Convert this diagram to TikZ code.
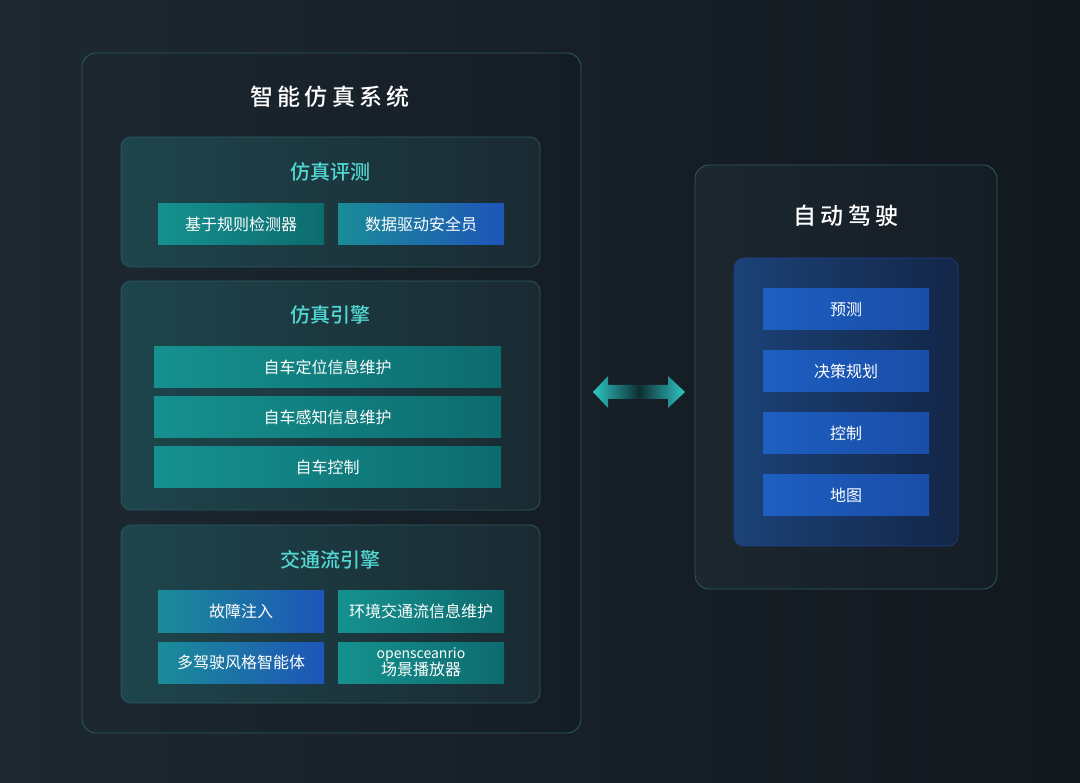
\documentclass[tikz,border=0pt]{standalone}
\usepackage{fontspec}
\setmainfont{Noto Sans CJK SC}
\newfontfamily\titlefont[LetterSpace=18]{Noto Sans CJK SC Medium}
\newfontfamily\subfont{Noto Sans CJK SC Medium}
\usetikzlibrary{calc}
\definecolor{bgL}{HTML}{1E2831}
\definecolor{bgR}{HTML}{11181E}
\definecolor{panelL}{HTML}{1C2730}
\definecolor{panelR}{HTML}{151D24}
\definecolor{edge}{HTML}{2C5A60}
\definecolor{subL}{HTML}{1E454C}
\definecolor{subR}{HTML}{1A2A32}
\definecolor{cyanT}{HTML}{52D8D2}
\definecolor{tealL}{HTML}{15918F}
\definecolor{tealR}{HTML}{0D6B6E}
\definecolor{blueL}{HTML}{1A8C98}
\definecolor{blueR}{HTML}{1E55B8}
\definecolor{adL}{HTML}{1D5FC2}
\definecolor{adR}{HTML}{1A4DA6}
\definecolor{innL}{HTML}{1B4277}
\definecolor{innR}{HTML}{132647}
\definecolor{arrT}{HTML}{2EC7C4}
\definecolor{arrD}{HTML}{0E2E33}
\tikzset{
  panel/.style={rectangle, rounded corners=14pt, draw=edge, line width=0.8pt,
    left color=panelL, right color=panelR, inner sep=0pt},
  subpanel/.style={rectangle, rounded corners=10pt, draw=edge, line width=0.7pt,
    left color=subL, right color=subR, inner sep=0pt, minimum width=419pt},
  innerpanel/.style={rectangle, rounded corners=10pt, draw=edge!70!blue, line width=0.6pt,
    left color=innL, right color=innR, inner sep=0pt},
  boxbase/.style={rectangle, inner sep=0pt, text=white, align=center,
    font=\fontsize{16}{17}\selectfont, minimum height=41pt},
  tealbox/.style={boxbase, left color=tealL, right color=tealR, minimum width=166pt},
  bluebox/.style={boxbase, left color=blueL, right color=blueR, minimum width=166pt},
  widebox/.style={boxbase, left color=tealL, right color=tealR, minimum width=347pt},
  adbox/.style={boxbase, left color=adL, right color=adR, minimum width=166pt},
  maintitle/.style={text=white, font=\titlefont\fontsize{23}{26}\selectfont},
  subtitle/.style={text=cyanT, font=\subfont\fontsize{20}{22}\selectfont},
}
\begin{document}
\begin{tikzpicture}[x=1pt,y=-1pt]
\useasboundingbox (0,0) rectangle (1080,783);
\shade[left color=bgL, right color=bgR] (0,0) rectangle (1080,783);
% left panel
\node[panel, minimum width=499pt, minimum height=680pt] (sys) at (331.5,393) {};
\node[maintitle] (systitle) at (330,97) {智能仿真系统};
% sub panel 1
\node[subpanel, minimum height=130pt] (eval) at (330.5,202) {};
\node[subtitle] (evaltitle) at (330,172) {仿真评测};
\node[tealbox] (rule) at (241,224) {基于规则检测器};
\node[bluebox] (safety) at (421,224) {数据驱动安全员};
% sub panel 2
\node[subpanel, minimum height=229pt] (engine) at (330.5,395.5) {};
\node[subtitle] (enginetitle) at (330,315) {仿真引擎};
\node[widebox] (loc) at (327.5,367.5) {自车定位信息维护};
\node[widebox] (perc) at (327.5,417.5) {自车感知信息维护};
\node[widebox] (ctrl) at (327.5,467.5) {自车控制};
% sub panel 3
\node[subpanel, minimum height=178pt] (traffic) at (330.5,614) {};
\node[subtitle] (traffictitle) at (330,560) {交通流引擎};
\node[bluebox] (fault) at (241,611.5) {故障注入};
\node[tealbox] (envflow) at (421,611.5) {环境交通流信息维护};
\node[bluebox] (agent) at (241,662.5) {多驾驶风格智能体};
\node[tealbox, font=\fontsize{14}{15}\selectfont] (player) at (421,662.5) {opensceanrio\\[-1pt]\fontsize{16}{17}\selectfont 场景播放器};
% right panel
\node[panel, minimum width=302pt, minimum height=424pt] (ad) at (846,377) {};
\node[maintitle] (adtitle) at (846,216) {自动驾驶};
\node[innerpanel, minimum width=224pt, minimum height=288pt] (adin) at (846,402) {};
\node[adbox] (pred) at (846,309.5) {预测};
\node[adbox] (plan) at (846,371.5) {决策规划};
\node[adbox] (adctrl) at (846,433.5) {控制};
\node[adbox] (map) at (846,495.5) {地图};
% double arrow between the two panels
\coordinate (aL) at (593,392);
\coordinate (aR) at (685,392);
\shade[left color=arrT, right color=arrT, middle color=arrD]
  (aL) -- ($(aL)+(15,-16)$) -- ($(aL)+(15,-7)$) -- ($(aR)+(-17,-7)$) -- ($(aR)+(-17,-16)$)
  -- (aR) -- ($(aR)+(-17,16)$) -- ($(aR)+(-17,7)$) -- ($(aL)+(15,7)$) -- ($(aL)+(15,16)$) -- cycle;
\end{tikzpicture}
\end{document}
